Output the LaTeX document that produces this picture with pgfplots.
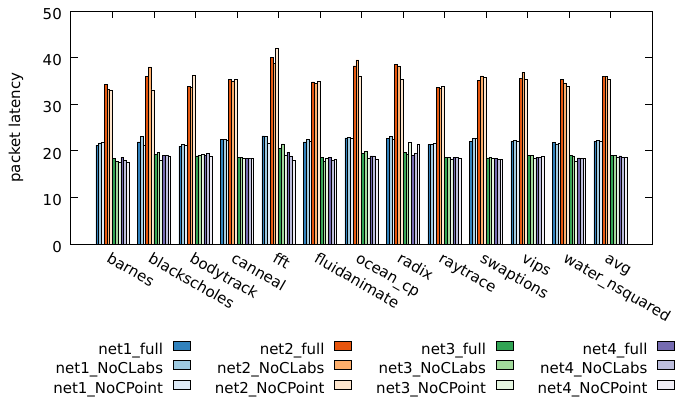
\documentclass[border=0pt]{standalone}
\usepackage{fontspec}
\setmainfont{DejaVu Sans}
\usepackage{pgfplots}
\usepackage{pgfplotstable}
\pgfplotsset{compat=1.18}
\definecolor{bA}{HTML}{3182BD}
\definecolor{bB}{HTML}{9ECAE1}
\definecolor{bC}{HTML}{DEEBF7}
\definecolor{oA}{HTML}{E6550D}
\definecolor{oB}{HTML}{FDAE6B}
\definecolor{oC}{HTML}{FEE6CE}
\definecolor{gA}{HTML}{31A354}
\definecolor{gB}{HTML}{A1D99B}
\definecolor{gC}{HTML}{E5F5E0}
\definecolor{pA}{HTML}{756BB1}
\definecolor{pB}{HTML}{BCBDDC}
\definecolor{pC}{HTML}{EFEDF5}
\pgfplotstableread{
x  n1f  n1l  n1p  n2f  n2l  n2p  n3f  n3l  n3p  n4f  n4l  n4p
0  21.2 21.7 21.8 34.3 33.2 33.1 18.4 17.7 17.5 18.6 18.0 17.6
1  21.9 23.1 21.2 35.9 38.0 33.1 19.3 19.6 18.0 19.1 19.1 18.9
2  21.0 21.4 21.2 33.8 33.6 36.3 18.9 19.1 19.3 19.1 19.5 18.8
3  22.5 22.5 22.3 35.4 35.0 35.4 18.6 18.6 18.4 18.4 18.4 18.5
4  23.2 23.1 21.6 40.1 38.8 42.1 20.6 21.5 19.1 19.7 18.9 18.0
5  21.9 22.4 22.1 34.8 34.5 34.9 18.6 17.8 18.4 18.6 18.0 18.2
6  22.8 22.9 22.7 38.2 39.5 36.1 19.5 19.9 18.3 18.9 18.9 18.1
7  22.7 23.1 22.5 38.6 38.1 35.4 19.6 19.3 21.8 19.1 19.4 21.5
8  21.4 21.3 21.6 33.6 33.4 33.8 18.6 18.6 18.2 18.6 18.6 18.5
9  22.1 22.6 22.6 35.1 36.1 35.8 18.5 18.6 18.3 18.4 18.2 18.1
10 22.1 22.3 22.1 35.6 36.9 35.4 19.1 19.1 18.3 18.6 18.6 18.9
11 21.8 21.5 21.7 35.4 34.6 33.8 19.1 18.9 17.8 18.5 18.4 18.3
12 22.1 22.3 22.0 35.9 36.0 35.4 19.1 19.1 18.7 18.9 18.7 18.7
}\datatable
\begin{document}
\begin{tikzpicture}[font=\fontsize{15}{18}\selectfont]
\begin{axis}[name=ax, scale only axis, width=581pt, height=233pt,
  ybar=0pt, bar width=0.067,
  xmin=-1, xmax=13, ymin=0, ymax=50,
  xtick={0,...,12},
  xticklabels={barnes,blackscholes,bodytrack,canneal,fft,fluidanimate,ocean\_cp,radix,raytrace,swaptions,vips,water\_nsquared,avg},
  ytick={0,10,...,50},
  tick align=inside, major tick length=7pt,
  every tick/.style={black, line width=0.8pt},
  axis line style={line width=1pt},
  /pgf/number format/assume math mode=true,
  xticklabel style={inner sep=0pt, anchor=base west, xshift=-6.7pt, yshift=-17.5pt, rotate=-30},
  yticklabel style={inner sep=0pt, anchor=east, xshift=-9pt, yshift=-2.8pt},
  ylabel={packet latency},
  ylabel style={at={([xshift=-55pt]axis description cs:0,0.5)}, anchor=center},
  legend columns=3, transpose legend,
  legend plot pos=right,
  legend cell align=right,
  legend style={draw=none, fill=none, at={(0,0)}, anchor=north west, xshift=-19.7pt, yshift=-96pt,
    inner sep=0pt, outer sep=0pt, column sep=0pt, row sep=0pt,
    nodes={inner xsep=2pt, inner ysep=1pt, text height=10.8pt, text depth=4.2pt}},
  legend image code/.code={\path[draw=none,fill=none] (0pt,-4pt) rectangle (47.7pt,11pt); \draw[#1, line width=0.5pt] (8pt,1pt) rectangle (25pt,10pt);},
  every axis plot/.append style={draw=black, line width=0.5pt},
]
\addplot[fill=bA] table[x=x, y=n1f]{\datatable};
\addplot[fill=bB] table[x=x, y=n1l]{\datatable};
\addplot[fill=bC] table[x=x, y=n1p]{\datatable};
\addplot[fill=oA] table[x=x, y=n2f]{\datatable};
\addplot[fill=oB] table[x=x, y=n2l]{\datatable};
\addplot[fill=oC] table[x=x, y=n2p]{\datatable};
\addplot[fill=gA] table[x=x, y=n3f]{\datatable};
\addplot[fill=gB] table[x=x, y=n3l]{\datatable};
\addplot[fill=gC] table[x=x, y=n3p]{\datatable};
\addplot[fill=pA] table[x=x, y=n4f]{\datatable};
\addplot[fill=pB] table[x=x, y=n4l]{\datatable};
\addplot[fill=pC] table[x=x, y=n4p]{\datatable};
\legend{net1\_full,net1\_NoCLabs,net1\_NoCPoint,net2\_full,net2\_NoCLabs,net2\_NoCPoint,net3\_full,net3\_NoCLabs,net3\_NoCPoint,net4\_full,net4\_NoCLabs,net4\_NoCPoint}
\end{axis}
\pgfresetboundingbox
\useasboundingbox ([shift={(-71pt,-153pt)}]ax.south west) rectangle ([shift={(604pt,244pt)}]ax.south west);
\end{tikzpicture}
\end{document}
